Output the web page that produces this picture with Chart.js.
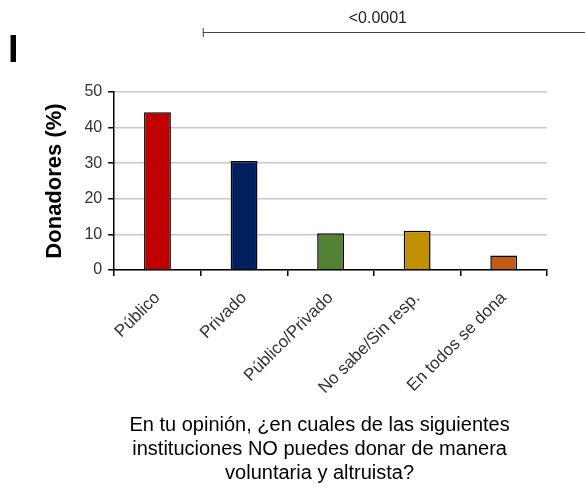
<!DOCTYPE html>
<html>
<head>
<meta charset="utf-8">
<script src="https://cdn.jsdelivr.net/npm/chart.js@4/dist/chart.umd.min.js"></script>
<style>
  html, body { margin: 0; padding: 0; background: #fff; }
  #wrap { width: 585px; height: 497px; }
</style>
</head>
<body>
<div id="wrap"><canvas id="c" width="585" height="497"></canvas></div>
<script>
const categories = ["Público", "Privado", "Público/Privado", "No sabe/Sin resp.", "En todos se dona"];
const donadores = [44.3, 30.6, 10.3, 11.0, 4.1];
const barColors = ["#C00000", "#002060", "#548235", "#BF9000", "#C55A11"];
const yTicks = [0, 10, 20, 30, 40, 50];
const pLabel = "<0.0001";
const panelLetter = "I";
const xTitle = ["En tu opinión, ¿en cuales de las siguientes", "instituciones NO puedes donar de manera", "voluntaria y altruista?"];

const FONT = "'Liberation Sans', Arial, sans-serif";

// letter "I", the significance bracket and the x-axis question
// (the question is drawn here because Chart.js caps a scale's height at half the chart)
const extras = {
  id: "extras",
  afterDraw(chart) {
    const ctx = chart.ctx, x = chart.scales.x, area = chart.chartArea;
    ctx.save();
    ctx.fillStyle = "#000";
    ctx.font = "bold 38px " + FONT;
    ctx.textBaseline = "alphabetic";
    ctx.fillText(panelLetter, 8, 62);

    const y = 32;
    const x0 = x.getPixelForValue(0.5) + 2;
    ctx.strokeStyle = "#444";
    ctx.lineWidth = 1;
    ctx.beginPath();
    ctx.moveTo(x0, y + 0.5); ctx.lineTo(chart.width, y + 0.5);
    ctx.moveTo(x0 + 0.5, y - 4); ctx.lineTo(x0 + 0.5, y + 5);
    ctx.stroke();
    ctx.fillStyle = "#222";
    ctx.font = "16px " + FONT;
    ctx.textAlign = "center";
    ctx.fillText(pLabel, x.getPixelForValue(2.5) + 4, 23);

    ctx.fillStyle = "#000";
    ctx.font = "20px " + FONT;
    ctx.textBaseline = "middle";
    const cx = (area.left + area.right) / 2 - 11;
    xTitle.forEach((line, i) => ctx.fillText(line, cx, area.bottom + 155 + i * 24));
    ctx.restore();
  }
};

new Chart(document.getElementById("c"), {
  type: "bar",
  data: {
    labels: categories,
    datasets: [{
      data: donadores,
      backgroundColor: barColors,
      borderColor: "#000",
      borderWidth: 1.5,
      categoryPercentage: 1,
      barPercentage: 0.31
    }]
  },
  options: {
    responsive: false,
    animation: false,
    layout: { padding: { top: 92, right: 38, left: 38, bottom: 87 } },
    plugins: { legend: { display: false }, tooltip: { enabled: false } },
    scales: {
      x: {
        grid: { drawOnChartArea: false, offset: true, tickLength: 6, color: "#000", lineWidth: 1.5 },
        border: { color: "#000", width: 1.5 },
        ticks: {
          color: "#333",
          font: { family: FONT, size: 17 },
          maxRotation: 45, minRotation: 45, padding: 12
        }
      },
      y: {
        min: 0, max: 50,
        afterBuildTicks(scale) { scale.ticks = yTicks.map(v => ({ value: v })); },
        grid: { color: "#c8c8c8", lineWidth: 1.5, tickLength: 6, tickColor: "#000" },
        border: { color: "#000", width: 1.5 },
        ticks: {
          color: "#333",
          font: { family: FONT, size: 16 },
          padding: 6
        },
        title: {
          display: true,
          text: "Donadores (%)",
          color: "#000",
          font: { family: FONT, size: 22, weight: "bold" },
          padding: { bottom: 10 }
        }
      }
    }
  },
  plugins: [extras]
});
</script>
</body>
</html>
